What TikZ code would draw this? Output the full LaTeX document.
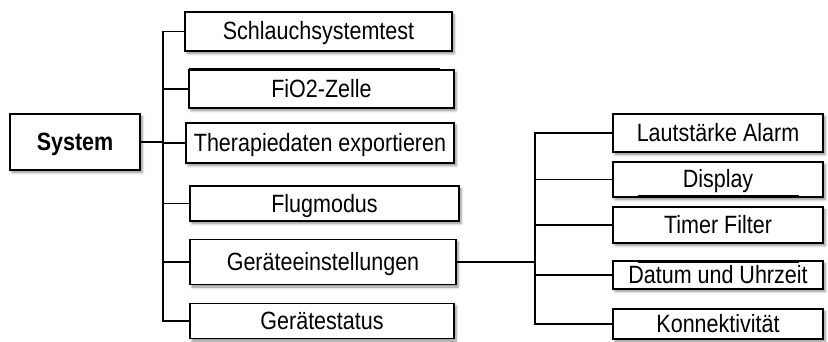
\documentclass[tikz,border=0pt]{standalone}
\usepackage{fontspec}
\setmainfont{Liberation Sans}[FakeStretch=0.86]
\usetikzlibrary{shadows.blur}
\begin{document}
\begin{tikzpicture}[x=1pt,y=-1pt,
  box/.style={draw=black, line width=1.3pt, fill=white, inner sep=0pt,
    font=\fontsize{25}{28}\selectfont, text height=17pt, text depth=0pt,
    blur shadow={shadow xshift=2pt, shadow yshift=-2.5pt, shadow blur steps=6, shadow blur radius=2.5pt, shadow opacity=45}},
  conn/.style={draw=black, line width=1.2pt},
  bar/.style={draw=black, line width=3pt}]
\useasboundingbox (0,0) rectangle (828,342);
% root
\node[box, font=\fontsize{25}{28}\selectfont\bfseries, minimum width=130pt, minimum height=56pt] (sys) at (75,142) {System};
% left column
\node[box, minimum width=267pt, minimum height=39pt] (s1) at (318.5,31.5) {Schlauchsystemtest};
\node[box, minimum width=265pt, minimum height=38pt] (s2) at (321.5,89) {FiO2-Zelle};
\node[box, minimum width=268pt, minimum height=40pt] (s3) at (320,143) {Therapiedaten exportieren};
\node[box, minimum width=269pt, minimum height=35pt] (s4) at (324.5,203.5) {Flugmodus};
\node[box, minimum width=266pt, minimum height=45pt] (s5) at (323,262) {Geräteeinstellungen};
\node[box, minimum width=264pt, minimum height=35pt] (s6) at (322,321) {Gerätestatus};
% right column
\node[box, minimum width=210pt, minimum height=38pt] (r1) at (718,133) {Lautstärke Alarm};
\node[box, minimum width=210pt, minimum height=35pt] (r2) at (718,179.5) {Display};
\node[box, minimum width=210pt, minimum height=36pt] (r3) at (718,225) {Timer Filter};
\node[box, minimum width=210pt, minimum height=28pt] (r4) at (718,275) {Datum und Uhrzeit};
\node[box, minimum width=210pt, minimum height=30pt] (r5) at (718,324) {Konnektivität};
% buses
\coordinate (bl) at (163,0);
\coordinate (br) at (535,0);
\draw[conn] (sys.east) -- (sys.east -| bl);
\draw[conn] (s1.west) -- (s1.west -| bl) -- (s6.west -| bl) -- (s6.west);
\foreach \n in {s2,s3,s4,s5} \draw[conn] (\n.west) -- (\n.west -| bl);
\draw[conn] (s5.east) -- (s5.east -| br);
\draw[conn] (r1.west) -- (r1.west -| br) -- (r5.west -| br) -- (r5.west);
\foreach \n in {r2,r3,r4} \draw[conn] (\n.west) -- (\n.west -| br);
% thick edge segments
\draw[bar] (189,70) -- (440,70);
\draw[bar] (638,197) -- (799,197);
\draw[bar] (638,261) -- (799,261);
\end{tikzpicture}
\end{document}
